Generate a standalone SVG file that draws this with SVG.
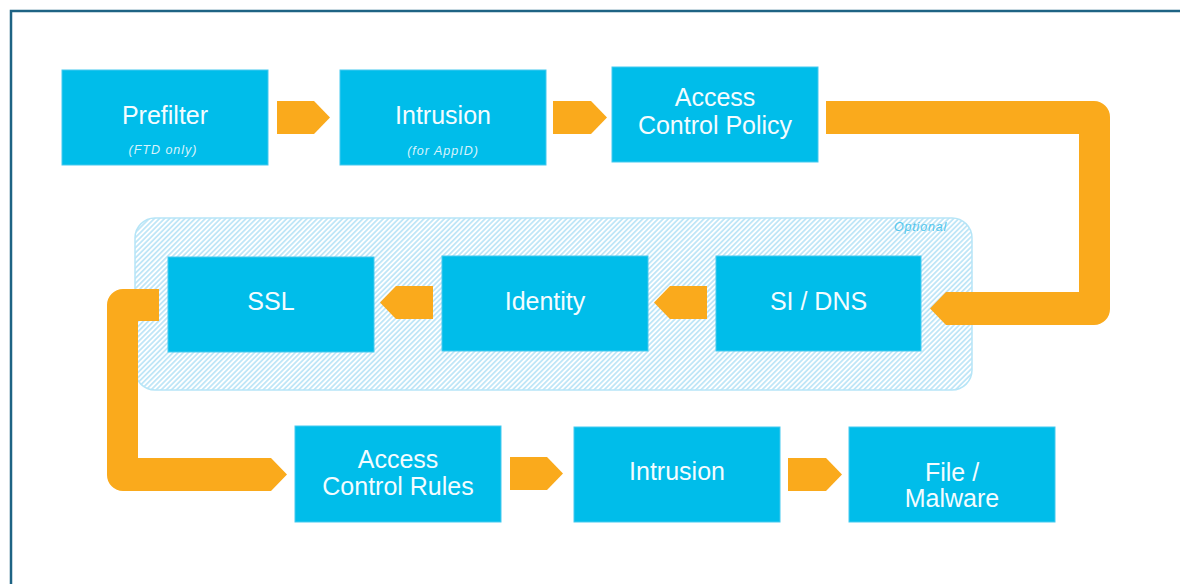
<svg xmlns="http://www.w3.org/2000/svg" width="1180" height="584" viewBox="0 0 1180 584">
  <style>
    .box { fill: #00bdea; stroke: #45c9ef; stroke-width: 1; }
    .flow { fill: #faaa1c; }
    .title { font-family: "Liberation Sans", Arial, sans-serif; font-size: 25px; fill: #f4fcff; text-anchor: middle; }
    .sub { font-family: "Liberation Sans", Arial, sans-serif; font-size: 12.5px; font-style: italic; letter-spacing: 1px; fill: #d9f3fc; text-anchor: middle; }
    .frame { fill: none; stroke: #1e6384; stroke-width: 2.5; }
    .optional-area { fill: url(#hatch); stroke: #b6e5f7; stroke-width: 1.5; }
    .optional-label { font-family: "Liberation Sans", Arial, sans-serif; font-size: 12.5px; font-style: italic; letter-spacing: 0.8px; fill: #52c6ec; text-anchor: end; }
  </style>
  <defs>
    <pattern id="hatch" width="3.6" height="3.6" patternUnits="userSpaceOnUse" patternTransform="rotate(45)">
      <rect width="3.6" height="3.6" fill="#ffffff"/>
      <line x1="0.9" y1="0" x2="0.9" y2="3.6" stroke="#b3e2f6" stroke-width="1.5"/>
    </pattern>
  </defs>

  <rect width="1180" height="584" fill="#ffffff"/>
  <!-- outer frame (top and left edges) -->
  <path class="frame" d="M11,584 V11 H1180"/>

  <!-- optional stage grouping -->
  <g id="optional">
    <rect class="optional-area" x="135" y="218" width="837" height="172" rx="20" ry="20"/>
    <text class="optional-label" x="947" y="231">Optional</text>
  </g>

  <!-- connectors -->
  <g id="connectors">
    <polygon class="flow" points="277,101 314,101 330,117.5 314,134 277,134"/>
    <polygon class="flow" points="553,101 591,101 607,117.5 591,134 553,134"/>
    <path class="flow" d="M826,101 H1094 A16,16 0 0 1 1110,117 V309 A16,16 0 0 1 1094,325 H946 L930,308.5 L946,292 H1079 V134 H826 Z"/>
    <polygon class="flow" points="707,286 670,286 654,302.5 670,319 707,319"/>
    <polygon class="flow" points="433,286 396,286 380,302.5 396,319 433,319"/>
    <path class="flow" d="M159,289 V321 H138 V458 H271 L287,474.5 L271,491 H123 A16,16 0 0 1 107,475 V305 A16,16 0 0 1 123,289 Z"/>
    <polygon class="flow" points="510,457 547,457 563,473.5 547,490 510,490"/>
    <polygon class="flow" points="788,458 826,458 842,474.5 826,491 788,491"/>
  </g>

  <!-- row 1 -->
  <g id="prefilter">
    <rect class="box" x="62" y="70" width="206" height="95"/>
    <text class="title" x="165" y="124">Prefilter</text>
    <text class="sub" x="163" y="154">(FTD only)</text>
  </g>
  <g id="intrusion-appid">
    <rect class="box" x="340" y="70" width="206" height="95"/>
    <text class="title" x="443" y="124">Intrusion</text>
    <text class="sub" x="443" y="155">(for AppID)</text>
  </g>
  <g id="access-control-policy">
    <rect class="box" x="612" y="67" width="206" height="95"/>
    <text class="title" x="715" y="106">Access</text>
    <text class="title" x="715" y="134">Control Policy</text>
  </g>

  <!-- row 2 -->
  <g id="si-dns">
    <rect class="box" x="716" y="256" width="205" height="95"/>
    <text class="title" x="818.5" y="310">SI / DNS</text>
  </g>
  <g id="identity">
    <rect class="box" x="442" y="256" width="206" height="95"/>
    <text class="title" x="545" y="310">Identity</text>
  </g>
  <g id="ssl">
    <rect class="box" x="168" y="257" width="206" height="95"/>
    <text class="title" x="271" y="310">SSL</text>
  </g>

  <!-- row 3 -->
  <g id="access-control-rules">
    <rect class="box" x="295" y="426" width="206" height="96"/>
    <text class="title" x="398" y="468">Access</text>
    <text class="title" x="398" y="495">Control Rules</text>
  </g>
  <g id="intrusion">
    <rect class="box" x="574" y="427" width="206" height="95"/>
    <text class="title" x="677" y="480">Intrusion</text>
  </g>
  <g id="file-malware">
    <rect class="box" x="849" y="427" width="206" height="95"/>
    <text class="title" x="952" y="481">File /</text>
    <text class="title" x="952" y="507">Malware</text>
  </g>
</svg>
